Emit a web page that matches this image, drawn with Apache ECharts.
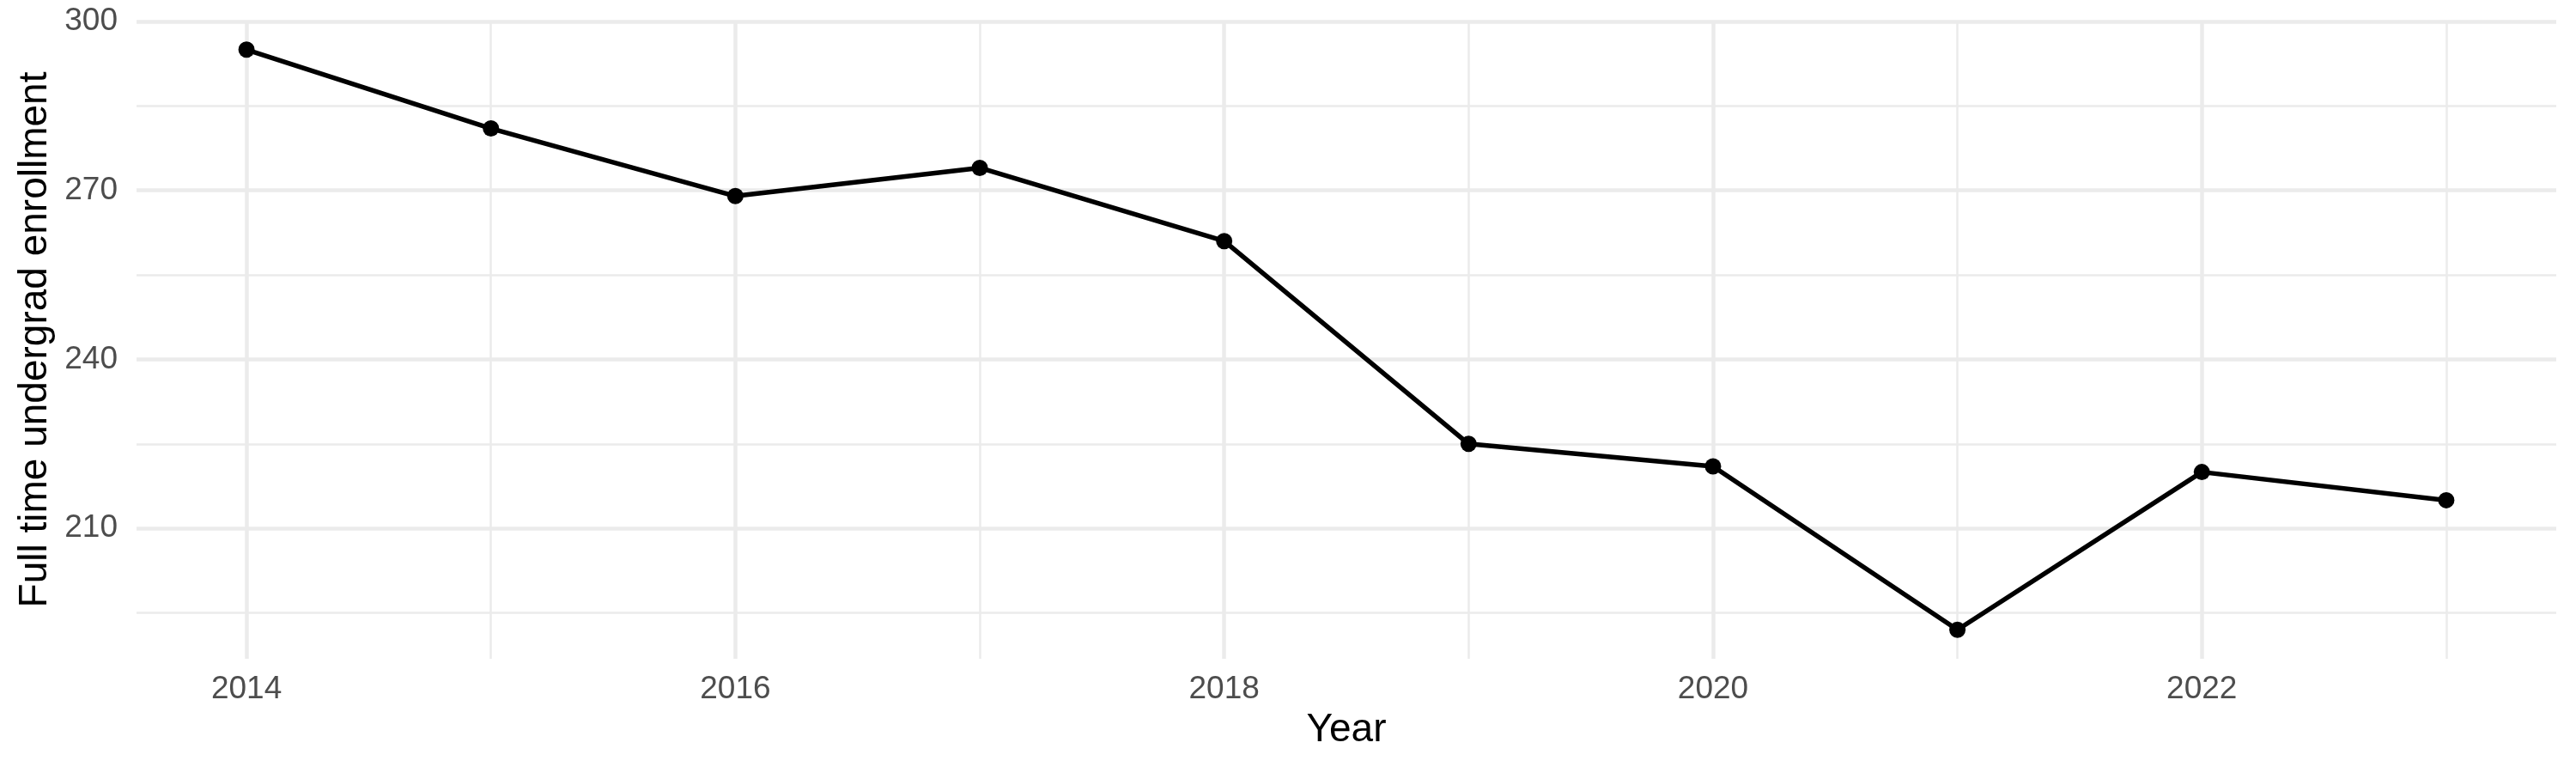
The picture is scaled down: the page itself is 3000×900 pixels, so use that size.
<!DOCTYPE html>
<html>
<head>
<meta charset="utf-8">
<script src="https://cdn.jsdelivr.net/npm/echarts@6/dist/echarts.min.js"></script>
<style>
  html, body { margin: 0; padding: 0; background: #ffffff; }
  #chart { width: 3000px; height: 900px; }
</style>
</head>
<body>
<div id="chart"></div>
<script>
// Data
const years = [2014, 2015, 2016, 2017, 2018, 2019, 2020, 2021, 2022, 2023];
const enrollment = [295, 281, 269, 274, 261, 225, 221, 192, 220, 215];

// Axis ticks
const xMajorTicks = [2014, 2016, 2018, 2020, 2022];
const xMinorTicks = [2015, 2017, 2019, 2021, 2023];
const yMajorTicks = [210, 240, 270, 300];
const yMinorTicks = [195, 225, 255, 285];

// ggplot-style 5% expansion of the data range
const xSpan = Math.max(...years) - Math.min(...years);
const xMin = Math.min(...years) - 0.05 * xSpan;
const xMax = Math.max(...years) + 0.05 * xSpan;
const ySpan = Math.max(...enrollment) - Math.min(...enrollment);
const yMin = Math.min(...enrollment) - 0.05 * ySpan;
const yMax = Math.max(...enrollment) + 0.05 * ySpan;

const FONT = 'Liberation Sans';
const GRID_MAJOR = { color: '#EBEBEB', width: 4.5 };
const GRID_MINOR = { color: '#EBEBEB', width: 2.5 };

const chart = echarts.init(document.getElementById('chart'), null, { renderer: 'canvas' });

chart.setOption({
  backgroundColor: '#ffffff',
  animation: false,
  grid: { left: 159, right: 23, top: 24, bottom: 133, containLabel: false },
  xAxis: [
    {
      type: 'value',
      min: xMin,
      max: xMax,
      position: 'bottom',
      name: 'Year',
      nameLocation: 'middle',
      nameGap: 60,
      nameTextStyle: { fontFamily: FONT, fontSize: 46, color: '#000000' },
      axisLine: { show: false },
      axisTick: { show: false, customValues: xMajorTicks },
      axisLabel: {
        customValues: xMajorTicks,
        fontFamily: FONT, fontSize: 37, color: '#4D4D4D', margin: 17,
        formatter: v => String(v)
      },
      splitLine: { show: true, lineStyle: GRID_MAJOR }
    },
    {
      type: 'value',
      min: xMin,
      max: xMax,
      position: 'top',
      axisLine: { show: false },
      axisTick: { show: false, customValues: xMinorTicks },
      axisLabel: { show: false, customValues: xMinorTicks },
      splitLine: { show: true, lineStyle: GRID_MINOR }
    }
  ],
  yAxis: [
    {
      type: 'value',
      min: yMin,
      max: yMax,
      position: 'left',
      name: 'Full time undergrad enrollment',
      nameLocation: 'middle',
      nameGap: 92,
      nameRotate: 90,
      nameTextStyle: { fontFamily: FONT, fontSize: 46, color: '#000000' },
      axisLine: { show: false },
      axisTick: { show: false, customValues: yMajorTicks },
      axisLabel: {
        customValues: yMajorTicks,
        fontFamily: FONT, fontSize: 37, color: '#4D4D4D', margin: 22,
        formatter: v => String(v)
      },
      splitLine: { show: true, lineStyle: GRID_MAJOR }
    },
    {
      type: 'value',
      min: yMin,
      max: yMax,
      position: 'right',
      axisLine: { show: false },
      axisTick: { show: false, customValues: yMinorTicks },
      axisLabel: { show: false, customValues: yMinorTicks },
      splitLine: { show: true, lineStyle: GRID_MINOR }
    }
  ],
  series: [
    {
      type: 'line',
      xAxisIndex: 0,
      yAxisIndex: 0,
      data: years.map((y, i) => [y, enrollment[i]]),
      lineStyle: { color: '#000000', width: 5.5 },
      itemStyle: { color: '#000000' },
      symbol: 'circle',
      symbolSize: 19,
      showAllSymbol: true,
      z: 10
    }
  ]
});
</script>
</body>
</html>
